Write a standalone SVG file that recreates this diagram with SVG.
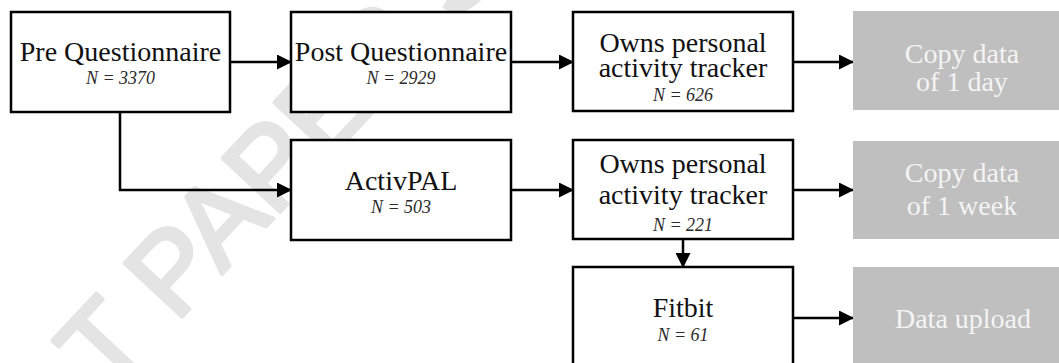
<svg xmlns="http://www.w3.org/2000/svg" width="1059" height="363" viewBox="0 0 1059 363">
  <style>
    .box { fill: #ffffff; stroke: #000000; stroke-width: 2.5; }
    .gbox { fill: #bfbfbf; stroke: none; }
    .t { font-family: "Liberation Serif", "Times New Roman", serif; font-size: 28px; fill: #111111; text-anchor: middle; }
    .n { font-family: "Liberation Serif", "Times New Roman", serif; font-style: italic; font-size: 18px; fill: #2a2a2a; text-anchor: middle; }
    .gt { font-family: "Liberation Serif", "Times New Roman", serif; font-size: 28px; fill: #f4f4f4; text-anchor: middle; }
    .wm { font-family: "Liberation Sans", Arial, sans-serif; font-size: 114px; fill: #e4e4e4; stroke: #e4e4e4; stroke-width: 4; stroke-linejoin: round; }
    .conn { fill: none; stroke: #000000; stroke-width: 2.5; }
  </style>
  <defs>
    <marker id="arrow" markerUnits="userSpaceOnUse" markerWidth="15" markerHeight="15" refX="14" refY="7.5" orient="auto">
      <path d="M0,0 L15,7.5 L0,15 Z" fill="#000000"/>
    </marker>
  </defs>
  <rect width="1059" height="363" fill="#ffffff"/>

  <g id="watermark">
    <text class="wm" transform="translate(108,396) rotate(-47)">T PAPER SU</text>
  </g>

  <g id="connectors">
    <line class="conn" x1="231" y1="62" x2="291" y2="62" marker-end="url(#arrow)"/>
    <line class="conn" x1="512" y1="62" x2="573" y2="62" marker-end="url(#arrow)"/>
    <line class="conn" x1="794" y1="62" x2="853" y2="62" marker-end="url(#arrow)"/>
    <polyline class="conn" points="120,112 120,190 291,190" marker-end="url(#arrow)"/>
    <line class="conn" x1="512" y1="190" x2="573" y2="190" marker-end="url(#arrow)"/>
    <line class="conn" x1="794" y1="190" x2="853" y2="190" marker-end="url(#arrow)"/>
    <line class="conn" x1="683" y1="240" x2="683" y2="267" marker-end="url(#arrow)"/>
    <line class="conn" x1="794" y1="318" x2="853" y2="318" marker-end="url(#arrow)"/>
  </g>

  <g id="pre-questionnaire">
    <rect class="box" x="11" y="12" width="219" height="100"/>
    <text class="t" x="120.5" y="61">Pre Questionnaire</text>
    <text class="n" x="120.5" y="84">N = 3370</text>
  </g>

  <g id="post-questionnaire">
    <rect class="box" x="291" y="12" width="220" height="100"/>
    <text class="t" x="401" y="61">Post Questionnaire</text>
    <text class="n" x="401" y="84">N = 2929</text>
  </g>

  <g id="owns-tracker-1">
    <rect class="box" x="573" y="12" width="220" height="99"/>
    <text class="t" x="683" y="52">Owns personal</text>
    <text class="t" x="683" y="77">activity tracker</text>
    <text class="n" x="683" y="101">N = 626</text>
  </g>

  <g id="copy-1-day">
    <rect class="gbox" x="853" y="11" width="220" height="99"/>
    <text class="gt" x="962" y="63">Copy data</text>
    <text class="gt" x="962" y="91">of 1 day</text>
  </g>

  <g id="activpal">
    <rect class="box" x="291" y="140" width="220" height="100"/>
    <text class="t" x="401" y="190">ActivPAL</text>
    <text class="n" x="401" y="213">N = 503</text>
  </g>

  <g id="owns-tracker-2">
    <rect class="box" x="573" y="140" width="220" height="99"/>
    <text class="t" x="683" y="173">Owns personal</text>
    <text class="t" x="683" y="204">activity tracker</text>
    <text class="n" x="683" y="231">N = 221</text>
  </g>

  <g id="copy-1-week">
    <rect class="gbox" x="853" y="141" width="220" height="98"/>
    <text class="gt" x="962" y="182">Copy data</text>
    <text class="gt" x="962" y="215">of 1 week</text>
  </g>

  <g id="fitbit">
    <rect class="box" x="573" y="267" width="220" height="100"/>
    <text class="t" x="683" y="317">Fitbit</text>
    <text class="n" x="683" y="341">N = 61</text>
  </g>

  <g id="data-upload">
    <rect class="gbox" x="853" y="267" width="220" height="100"/>
    <text class="gt" x="963" y="328">Data upload</text>
  </g>
</svg>
